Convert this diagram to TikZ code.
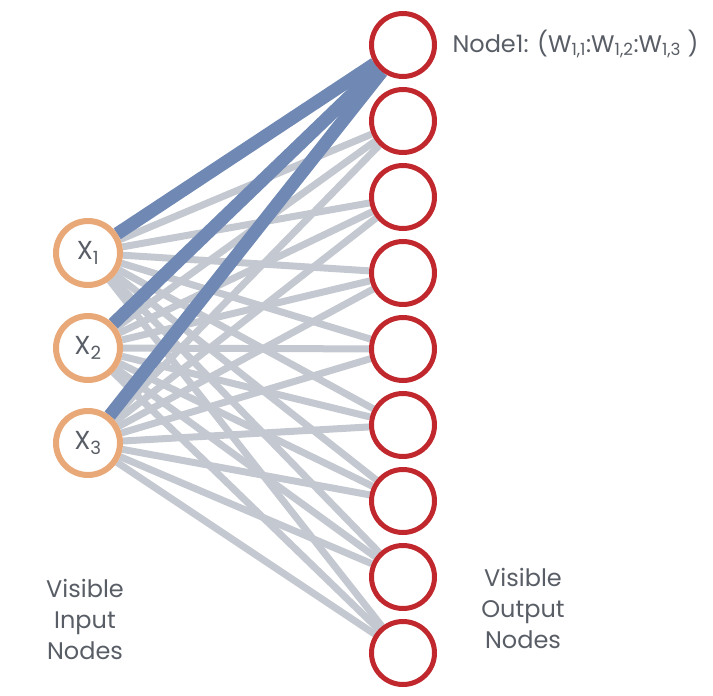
\documentclass[tikz,border=0pt]{standalone}
\usepackage{fontspec}
\setmainfont{Poppins}
\usetikzlibrary{positioning}
\definecolor{inring}{HTML}{E8A878}
\definecolor{outring}{HTML}{C0282E}
\definecolor{weightblue}{HTML}{7089B4}
\definecolor{linkgray}{HTML}{C4C8D0}
\definecolor{labelgray}{HTML}{595E66}
\pgfdeclarelayer{background}
\pgfsetlayers{background,main}
\tikzset{
  innode/.style = {circle, draw = inring, line width = 6pt, fill = white, minimum size = 64pt,
    inner sep = 0, text = labelgray, font = \fontsize{26}{30}\selectfont},
  outnode/.style = {circle, draw = outring, line width = 5pt, fill = white, minimum size = 63pt, inner sep = 0},
  link/.style = {draw = linkgray, line width = 7pt},
  weight/.style = {draw = weightblue, line width = 13pt},
  caption/.style = {text = labelgray, align = center, font = \fontsize{24}{31}\selectfont}
}

\begin{document}
\begin{tikzpicture}[x = 1pt, y = -1pt]
  \useasboundingbox (0, 0) rectangle (713, 696);

  % visible input nodes
  \foreach \i in {1, 2, 3}
    \node [innode] (x\i) at (88, 158 + 95*\i) {X\textsubscript{\i}};

  % visible output nodes
  \foreach \j in {1, ..., 9}
    \node [outnode] (o\j) at (403, -31 + 76*\j) {};

  \node [text = labelgray, font = \fontsize{24}{28}\selectfont, right = 12pt of o1, yshift = 1pt] (w1) {Node1: (W\textsubscript{1,1}:W\textsubscript{1,2}:W\textsubscript{1,3} )};

  \node [caption] (incap) at (85, 619) {Visible\\Input\\Nodes};
  \node [caption] (outcap) at (523, 608) {Visible\\Output\\Nodes};

  \begin{pgfonlayer}{background}
    \foreach \i in {1, 2, 3}
      \foreach \j in {1, ..., 9}
        \draw [link] (x\i) -- (o\j);
    \foreach \i in {1, 2, 3}
      \draw [weight] (x\i) -- (o1);
  \end{pgfonlayer}
\end{tikzpicture}
\end{document}
